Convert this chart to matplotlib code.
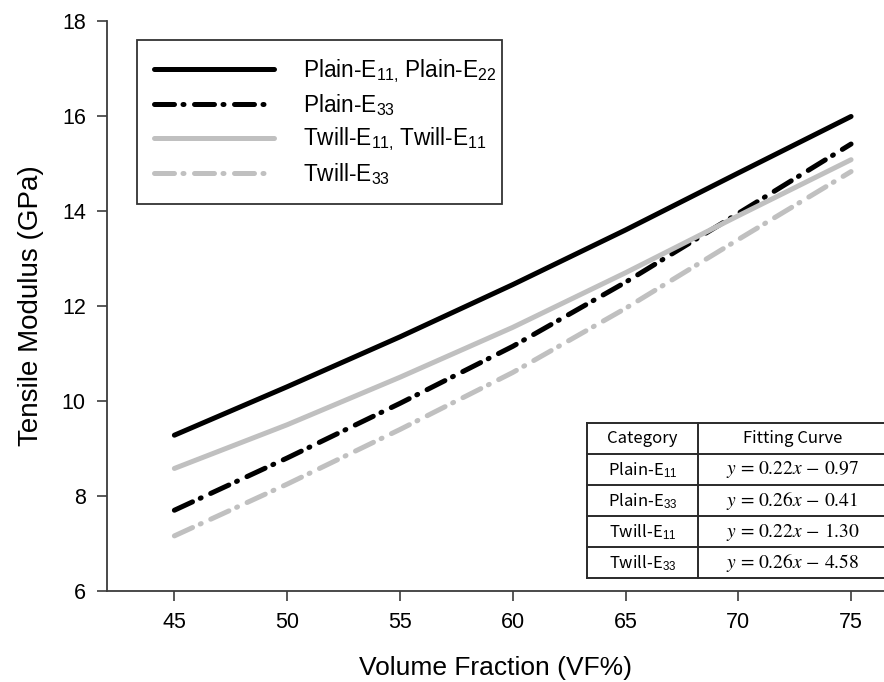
import matplotlib
matplotlib.use('Agg')
import matplotlib.pyplot as plt
from matplotlib.font_manager import FontProperties

# ---------------- data ----------------
vf = [45, 50, 55, 60, 65, 70, 75]
plain_e11 = [9.28, 10.30, 11.35, 12.45, 13.60, 14.80, 15.99]
plain_e33 = [7.70, 8.80, 9.95, 11.15, 12.50, 13.95, 15.41]
twill_e11 = [8.58, 9.50, 10.50, 11.55, 12.70, 13.90, 15.08]
twill_e33 = [7.16, 8.25, 9.40, 10.60, 11.95, 13.40, 14.83]

legend_labels = [
    r'Plain-E$_{11,}\,$Plain-E$_{22}$',
    r'Plain-E$_{33}$',
    r'Twill-E$_{11,}\,$Twill-E$_{11}$',
    r'Twill-E$_{33}$',
]
x_ticks = [45, 50, 55, 60, 65, 70, 75]
y_ticks = [6, 8, 10, 12, 14, 16, 18]

table_header = ['Category', 'Fitting Curve']
table_categories = [r'Plain-E$_{11}$', r'Plain-E$_{33}$', r'Twill-E$_{11}$', r'Twill-E$_{33}$']
table_equations = ['$y$ = 0.22$x$ \u2212 0.97', '$y$ = 0.26$x$ \u2212 0.41',
                   '$y$ = 0.22$x$ \u2212 1.30', '$y$ = 0.26$x$ \u2212 4.58']

# ---------------- style ----------------
plt.rcParams['font.family'] = ['Liberation Sans', 'DejaVu Sans']
plt.rcParams['mathtext.fontset'] = 'custom'
plt.rcParams['mathtext.rm'] = 'Liberation Sans'
plt.rcParams['mathtext.it'] = 'Liberation Sans:italic'
plt.rcParams['mathtext.bf'] = 'Liberation Sans:bold'

W, H = 884, 682
fig = plt.figure(figsize=(W / 100, H / 100), dpi=100)
ax = fig.add_axes([106.7 / W, 91 / H, 1 - 106.7 / W, (591 - 21) / H])

BLACK = '#000000'
GRAY = '#c0c0c0'
LW = 3.6
dashdot = (0, (4, 1.7, 0.2, 2.1))

series = [
    (plain_e11, BLACK, '-'),
    (plain_e33, BLACK, dashdot),
    (twill_e11, GRAY, '-'),
    (twill_e33, GRAY, dashdot),
]
handles = []
for ys, col, ls in series:
    ln, = ax.plot(vf, ys, color=col, lw=LW, linestyle=ls,
                  solid_capstyle='round', dash_capstyle='round',
                  solid_joinstyle='round')
    handles.append(ln)

ax.set_xlim(42, 76.46)
ax.set_ylim(6, 18)
ax.set_xticks(x_ticks)
ax.set_yticks(y_ticks)
for s in ['top', 'right']:
    ax.spines[s].set_visible(False)
SPC = '#3c3c3c'
for s in ['left', 'bottom']:
    ax.spines[s].set_color(SPC)
    ax.spines[s].set_linewidth(1.3)
ax.tick_params(direction='out', length=7, width=1.2, color=SPC,
               labelsize=15.5, pad=8, labelcolor='black')
ax.set_xlabel('Volume Fraction (VF%)', fontsize=19, labelpad=17)
ax.set_ylabel('Tensile Modulus (GPa)', fontsize=20, labelpad=13)

leg = ax.legend(handles, legend_labels, loc='upper left',
                bbox_to_anchor=(137 / W, 1 - 203 / H, 365 / W, 163 / H),
                bbox_transform=fig.transFigure, mode='expand',
                borderaxespad=0, frameon=True, fancybox=False,
                edgecolor='#333333', framealpha=1,
                prop=FontProperties(family='Liberation Sans', size=16.3),
                handlelength=5.3, handletextpad=1.3, labelspacing=0.33,
                borderpad=0.75)
leg.get_frame().set_linewidth(1.3)

# ---------------- table ----------------
tx0, tx1 = 586.7, 887.0
ty_top, ty_bot = 423.3, 578.3
tab = fig.add_axes([tx0 / W, 1 - ty_bot / H, (tx1 - tx0) / W, (ty_bot - ty_top) / H])
tab.set_xlim(0, 1)
tab.set_ylim(0, 5)
tab.axis('off')
nrows = len(table_categories) + 1
col_div = (698 - tx0) / (tx1 - tx0)
TC = '#2a2a2a'
for i in range(nrows + 1):
    tab.plot([0, 1], [i, i], color=TC, lw=1.4, clip_on=False)
tab.plot([0, 0], [0, nrows], color=TC, lw=1.4, clip_on=False)
tab.plot([1, 1], [0, nrows], color=TC, lw=1.4, clip_on=False)
tab.plot([col_div, col_div], [0, nrows], color=TC, lw=1.4, clip_on=False)

cjk = ['Noto Sans CJK KR', 'DejaVu Sans']
c1 = col_div / 2
c2 = (col_div + 1) / 2
tab.text(c1, nrows - 0.5, table_header[0], ha='center', va='center', fontsize=12, family=cjk)
tab.text(c2, nrows - 0.5, table_header[1], ha='center', va='center', fontsize=12, family=cjk)
for i, (cat, eq) in enumerate(zip(table_categories, table_equations)):
    yc = nrows - 1.5 - i
    tab.text(c1, yc, cat, ha='center', va='center', fontsize=12, family=cjk)
    tab.text(c2, yc, eq, ha='center', va='center', fontsize=14,
             family=['STIXGeneral', 'DejaVu Serif'], math_fontfamily='stix')

fig.savefig('out.png', dpi=100)
